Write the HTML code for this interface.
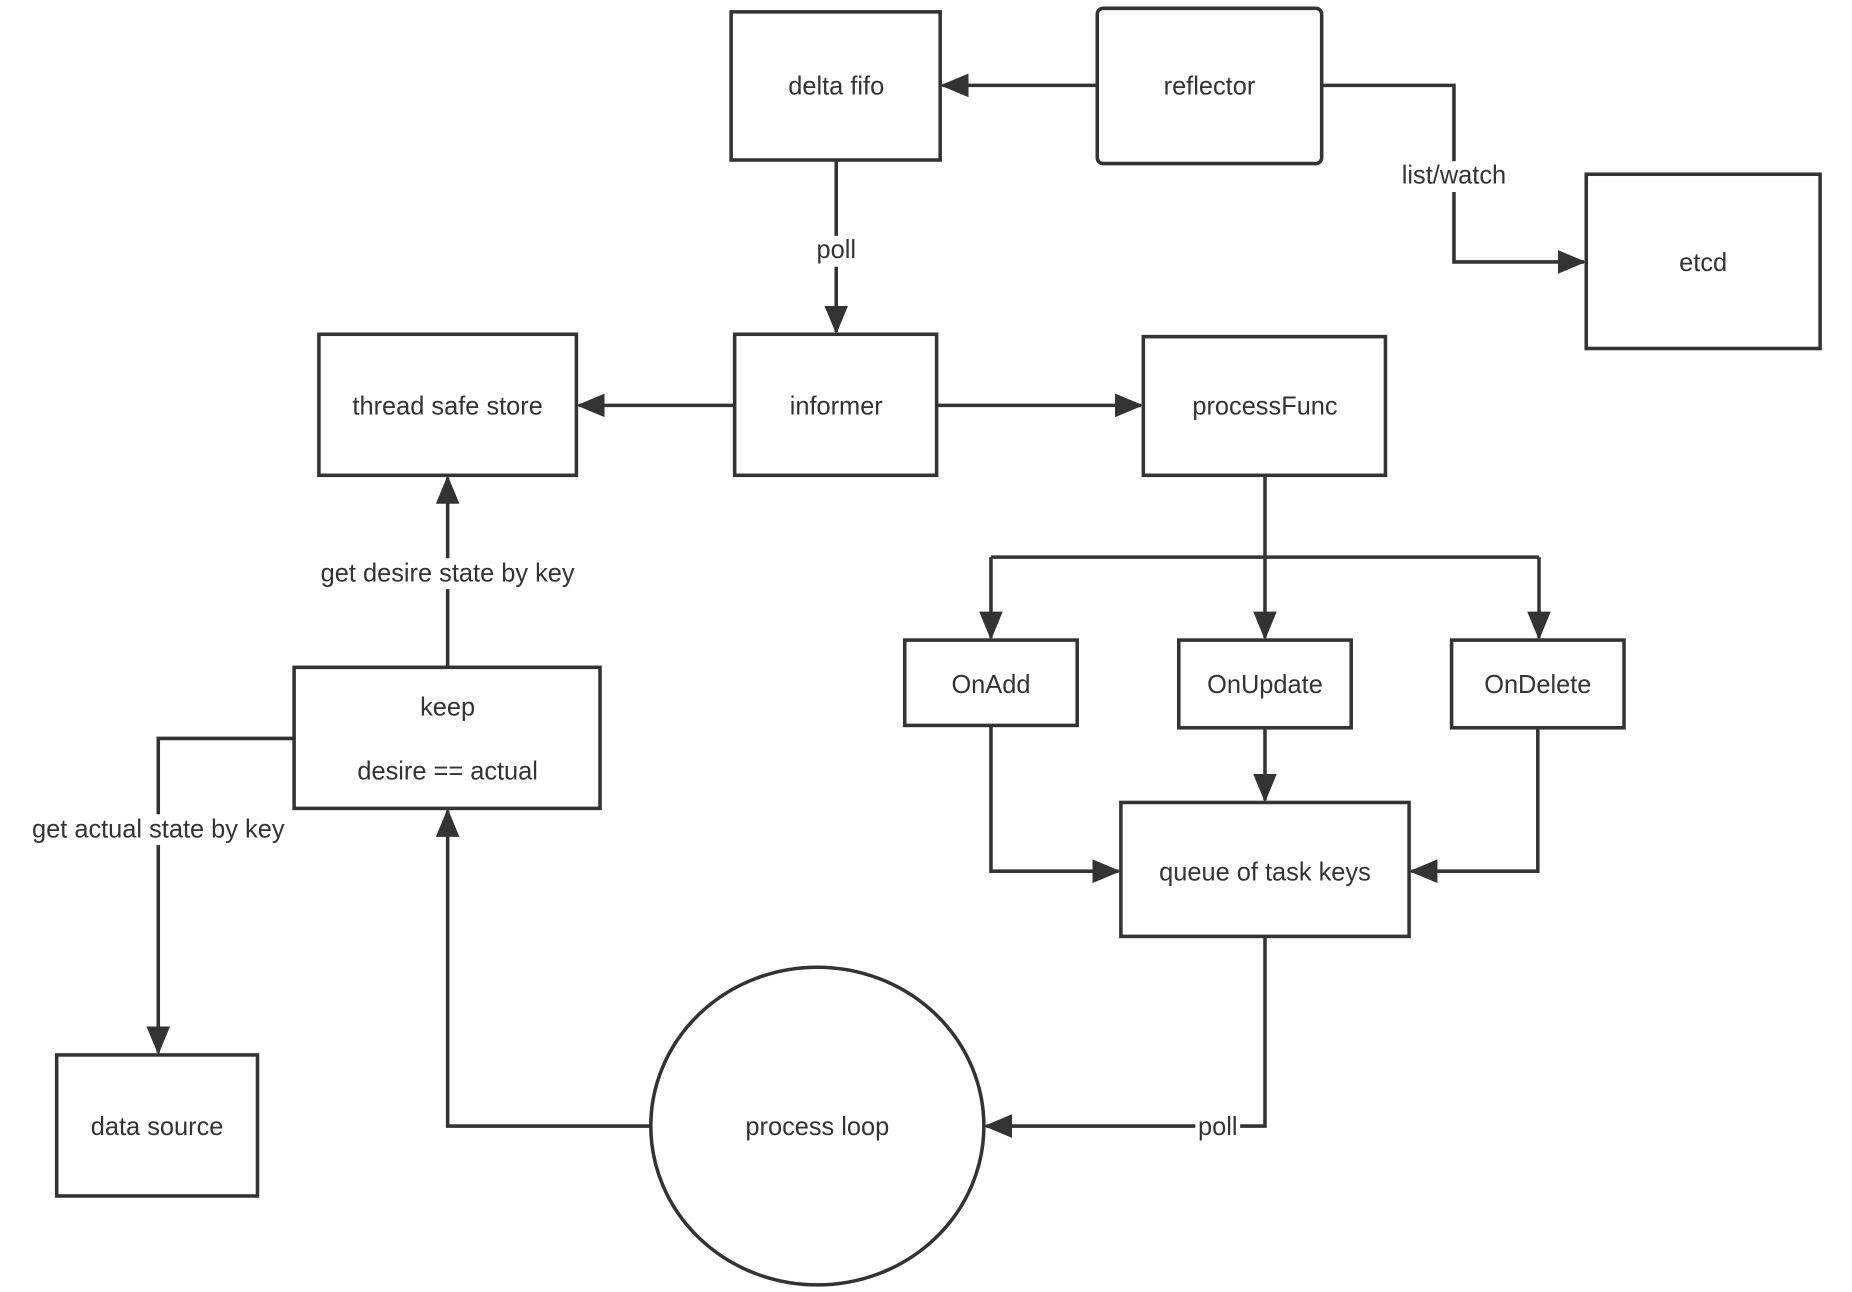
<!DOCTYPE html>
<html><head><meta charset="utf-8"><style>
html,body{margin:0;padding:0;background:#fff;}
svg{display:block;}
text{font-family:"Liberation Sans",sans-serif;font-size:21.5px;fill:#333;text-anchor:middle;dominant-baseline:central;}
</style></head><body>
<svg width="1852" height="1292" viewBox="0 0 1568 1090" preserveAspectRatio="none">
<defs>
<marker id="a" markerWidth="24" markerHeight="20" refX="22" refY="10" orient="auto" markerUnits="userSpaceOnUse">
<path d="M0,0 L24,10 L0,20 Z" fill="#333"/>
</marker>
</defs>
<g fill="#fff" stroke="#333" stroke-width="3">
<rect x="619" y="10" width="177" height="125"/>
<rect x="929" y="7" width="190" height="131" rx="5"/>
<rect x="1343" y="147" width="198" height="147"/>
<rect x="270" y="282" width="218" height="119"/>
<rect x="622" y="282" width="171" height="119"/>
<rect x="968" y="284" width="205" height="117"/>
<rect x="766" y="540" width="146" height="72"/>
<rect x="998" y="540" width="146" height="74"/>
<rect x="1229" y="540" width="146" height="74"/>
<rect x="949" y="677" width="244" height="113"/>
<rect x="249" y="563" width="259" height="119"/>
<rect x="48" y="890" width="170" height="119"/>
<ellipse cx="692" cy="950" rx="141" ry="134"/>
</g>
<g fill="none" stroke="#333" stroke-width="3">
<path d="M929,72 L798,72" marker-end="url(#a)"/>
<path d="M1119,72 L1231,72 L1231,221 L1341,221" marker-end="url(#a)"/>
<path d="M708,135 L708,280" marker-end="url(#a)"/>
<path d="M622,342 L490,342" marker-end="url(#a)"/>
<path d="M793,342 L966,342" marker-end="url(#a)"/>
<path d="M1071,401 L1071,470"/>
<path d="M839,470 L1303,470"/>
<path d="M839,470 L839,538" marker-end="url(#a)"/>
<path d="M1071,470 L1071,538" marker-end="url(#a)"/>
<path d="M1303,470 L1303,538" marker-end="url(#a)"/>
<path d="M1071,614 L1071,675" marker-end="url(#a)"/>
<path d="M839,612 L839,735 L947,735" marker-end="url(#a)"/>
<path d="M1302,614 L1302,735 L1195,735" marker-end="url(#a)"/>
<path d="M1071,790 L1071,950 L835,950" marker-end="url(#a)"/>
<path d="M551,950 L379,950 L379,684" marker-end="url(#a)"/>
<path d="M379,563 L379,403" marker-end="url(#a)"/>
<path d="M249,623 L134,623 L134,888" marker-end="url(#a)"/>
</g>
<g fill="#fff">
<rect x="1180" y="136" width="102" height="26"/>
<rect x="688" y="199" width="40" height="26"/>
<rect x="262" y="471" width="234" height="26"/>
<rect x="16" y="687" width="236" height="26"/>
<rect x="1012" y="938" width="38" height="26"/>
</g>
<text x="708" y="73">delta fifo</text>
<text x="1024" y="73">reflector</text>
<text x="1442" y="222">etcd</text>
<text x="1231" y="148">list/watch</text>
<text x="708" y="211">poll</text>
<text x="379" y="343">thread safe store</text>
<text x="708" y="343">informer</text>
<text x="1071" y="343">processFunc</text>
<text x="839" y="578">OnAdd</text>
<text x="1071" y="578">OnUpdate</text>
<text x="1302" y="578">OnDelete</text>
<text x="1071" y="736">queue of task keys</text>
<text x="379" y="597">keep</text>
<text x="379" y="651">desire == actual</text>
<text x="379" y="484">get desire state by key</text>
<text x="134" y="700">get actual state by key</text>
<text x="133" y="951">data source</text>
<text x="692" y="951">process loop</text>
<text x="1031" y="951">poll</text>
</svg>
</body></html>
